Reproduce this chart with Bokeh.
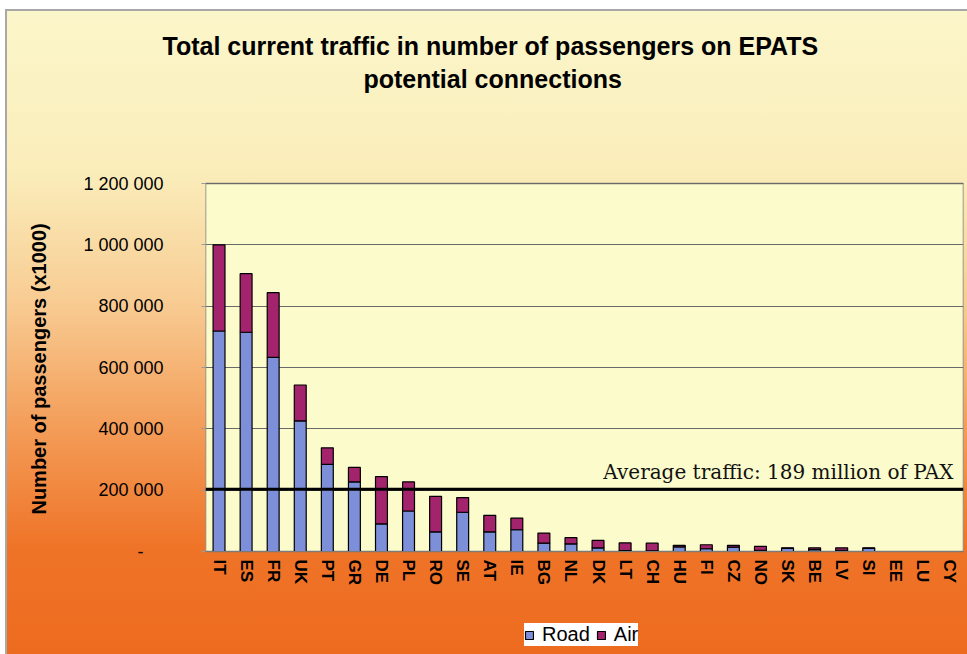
from bokeh.plotting import figure
from bokeh.models import (ColumnDataSource, FactorRange, Range1d, FixedTicker, Span,
                          Label, Legend, LegendItem, Title)
from bokeh.embed import file_html
from bokeh.resources import INLINE

# ---------------- data ----------------
countries = ["IT", "ES", "FR", "UK", "PT", "GR", "DE", "PL", "RO", "SE", "AT", "IE", "BG", "NL",
             "DK", "LT", "CH", "HU", "FI", "CZ", "NO", "SK", "BE", "LV", "SI", "EE", "LU", "CY"]
road = [719000, 715000, 633000, 426000, 284000, 227000, 90000, 132000, 64000, 128000, 64000, 71000,
        27000, 25000, 12000, 3000, 2000, 15000, 9000, 14000, 4000, 10000, 6000, 4000, 10000, 0, 0, 0]
air = [281000, 191000, 211000, 117000, 54000, 47000, 154000, 95000, 116000, 48000, 54000, 38000,
       33000, 20000, 24000, 25000, 25000, 5000, 13000, 6000, 13000, 2000, 6000, 8000, 2000, 0, 0, 0]
series = ["Road", "Air"]
series_colors = ["#7C8FD8", "#A3246C"]
y_ticks = [0, 200000, 400000, 600000, 800000, 1000000, 1200000]
y_tick_labels = ["-\u00a0\u00a0\u00a0\u00a0", "200 000", "400 000", "600 000", "800 000",
                 "1 000 000", "1 200 000"]
average_traffic = 203000
average_label = "Average traffic: 189 million of PAX"
title_line1 = "Total current traffic in number of passengers on EPATS"
title_line2 = "potential connections"
y_label = "Number of passengers (x1000)"

# ---------------- layout geometry (pixels) ----------------
W, H = 967, 654
LEFT, RIGHT, TOP = 205, 4, 94
PLOT_TOP_PX, PLOT_BOTTOM_PX = 183, 551          # where 1 200 000 and 0 sit
Y_MAX = y_ticks[-1]
per_px = Y_MAX / (PLOT_BOTTOM_PX - PLOT_TOP_PX)
y_start = -(H - PLOT_BOTTOM_PX) * per_px
y_end = Y_MAX + (PLOT_TOP_PX - TOP) * per_px
n = len(countries)
cat_px = (W - LEFT - RIGHT) / n


def x_at(px):
    return (px - LEFT) / cat_px


src = ColumnDataSource(dict(country=countries, Road=road, Air=air))

p = figure(x_range=FactorRange(factors=countries, range_padding=0),
           y_range=Range1d(y_start, y_end),
           width=W, height=H, output_backend="svg", toolbar_location=None,
           min_border_left=LEFT, min_border_right=RIGHT, min_border_top=TOP, min_border_bottom=0)

p.styles = {
    "background-color": "white",
    "background-image": ("linear-gradient(#a8a8a8,#a8a8a8), linear-gradient(#a8a8a8,#a8a8a8), "
                         "linear-gradient(to bottom, #FBF6CA 0%, #FAEDBA 25%, #F8CB92 45%, "
                         "#F39A55 65%, #EF7428 82%, #ED6A1E 100%)"),
    "background-position": "5px 9px, 5px 9px, 6px 10px",
    "background-size": "100% 2px, 2px 100%, 100% 100%",
    "background-repeat": "no-repeat",
}
p.border_fill_color = None
p.background_fill_color = None
p.outline_line_color = None

# titles (p.title = outer line, added Title = line next to the frame)
p.title.text = title_line1
p.title.align = "left"
p.title.offset = -43
p.title.standoff = 3
p.title.text_font = "Liberation Sans"
p.title.text_font_size = "25px"
p.title.text_font_style = "bold"
p.title.text_color = "black"
t2 = Title(text=title_line2, align="left", offset=158, standoff=3, text_font="Liberation Sans",
           text_font_size="25px", text_font_style="bold", text_color="black")
p.add_layout(t2, "above")

# plot area (pale yellow box with grey border)
p.quad(left=0, right=n, bottom=0, top=Y_MAX, fill_color="#FCFBCB", line_color="#7a7a7a",
       line_width=1.5, level="image")

# bars
renderers = p.vbar_stack(series, x="country", width=0.44, color=series_colors,
                         line_color="black", line_width=1.2, source=src)

# average line
p.add_layout(Span(location=average_traffic, dimension="width", line_color="black", line_width=3))
p.add_layout(Label(x=x_at(953), y=average_traffic, text=average_label, text_align="right",
                   text_baseline="alphabetic", y_offset=17, text_font="DejaVu Serif",
                   text_font_size="20px", text_color="#111111"))

# axes
p.yaxis.ticker = FixedTicker(ticks=y_ticks)
p.yaxis.major_label_overrides = {t: l for t, l in zip(y_ticks, y_tick_labels)}
p.yaxis.major_label_text_font = "Liberation Sans"
p.yaxis.major_label_text_font_size = "18px"
p.yaxis.major_label_text_color = "black"
p.yaxis.major_tick_out = 4
p.yaxis.major_tick_in = 0
p.yaxis.major_tick_line_color = "#9a9a9a"
p.yaxis.minor_tick_line_color = None
p.yaxis.major_label_standoff = 38
p.yaxis.axis_line_color = None
# leading no-break spaces nudge the label so it is centred on the 0..1 200 000 span
p.yaxis.axis_label = "\u00a0" * 2 + y_label
p.yaxis.axis_label_text_font = "Liberation Sans"
p.yaxis.axis_label_text_font_size = "20px"
p.yaxis.axis_label_text_font_style = "bold"
p.yaxis.axis_label_text_color = "black"
p.yaxis.axis_label_standoff = 30

p.xaxis.fixed_location = 0
p.xaxis.major_label_orientation = "vertical"
p.xaxis.major_label_text_font = "Liberation Sans"
p.xaxis.major_label_text_font_size = "17px"
p.xaxis.major_label_text_font_style = "bold"
p.xaxis.major_label_text_color = "black"
p.xaxis.major_tick_line_color = None
p.xaxis.major_tick_out = 0
p.xaxis.major_tick_in = 0
p.xaxis.major_label_standoff = 8
p.xaxis.axis_line_color = "#7a7a7a"

p.ygrid.grid_line_color = "#6a6a6a"
p.ygrid.grid_line_width = 1
p.xgrid.grid_line_color = None

legend = Legend(items=[LegendItem(label=s, renderers=[r]) for s, r in zip(series, renderers)],
                location=(524 - LEFT, 8), orientation="horizontal",
                background_fill_color="white", background_fill_alpha=1,
                border_line_color=None, label_text_font="Liberation Sans",
                label_text_font_size="20px", label_text_color="black",
                label_height=23, glyph_width=10, glyph_height=10, label_standoff=8, spacing=6,
                padding=8, margin=0)
p.add_layout(legend, "center")

open("out.html", "w").write(file_html(p, INLINE))
